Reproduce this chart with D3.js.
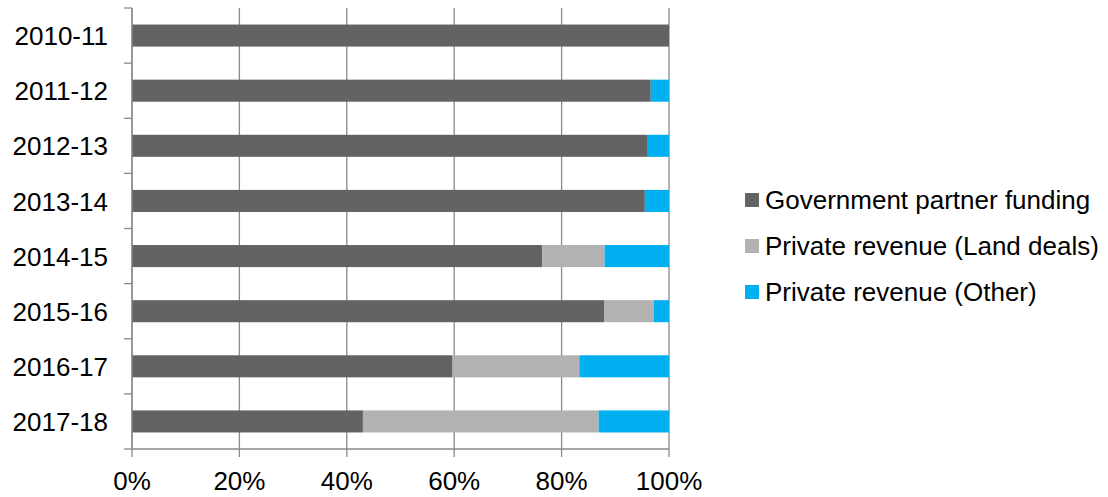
<!DOCTYPE html>
<html>
<head>
<meta charset="utf-8">
<script src="https://cdn.jsdelivr.net/npm/d3@7"></script>
<style>
  body { margin: 0; background: #fff; }
  text { font-family: "Liberation Sans", Arial, sans-serif; fill: #000; }
</style>
</head>
<body>
<script>
// Data (shares of total, %)
const years = ["2010-11", "2011-12", "2012-13", "2013-14", "2014-15", "2015-16", "2016-17", "2017-18"];
const seriesNames = ["Government partner funding", "Private revenue (Land deals)", "Private revenue (Other)"];
const government = [100, 96.6, 95.9, 95.5, 76.4, 87.9, 59.7, 43.0];
const landDeals = [0, 0, 0, 0, 11.6, 9.3, 23.6, 43.9];
const other = [0, 3.4, 4.1, 4.5, 12.0, 2.8, 16.7, 13.1];
const xTicks = [0, 20, 40, 60, 80, 100];
const colors = ["#636363", "#b2b2b2", "#00b0f0"];

const width = 1108, height = 497;
const margin = { top: 8, right: 439, bottom: 48, left: 132 };

const svg = d3.select("body").append("svg")
    .attr("width", width)
    .attr("height", height);

const x = d3.scaleLinear()
    .domain([0, 100])
    .range([margin.left, width - margin.right]);

const y = d3.scaleBand()
    .domain(years)
    .range([margin.top, height - margin.bottom])
    .paddingInner(0.6)
    .paddingOuter(0.3);

// Build stacked table
const table = years.map((yr, i) => ({
    year: yr,
    [seriesNames[0]]: government[i],
    [seriesNames[1]]: landDeals[i],
    [seriesNames[2]]: other[i]
}));
const stacked = d3.stack().keys(seriesNames)(table);

const axisColor = "#8a8a8a";
const fontSize = 26;

// gridlines (with small ticks below the axis)
svg.append("g")
    .selectAll("line")
    .data(xTicks)
    .join("line")
    .attr("x1", d => x(d)).attr("x2", d => x(d))
    .attr("y1", margin.top).attr("y2", height - margin.bottom + 8)
    .attr("stroke", axisColor)
    .attr("stroke-width", 1.3);

// bars
svg.append("g")
    .selectAll("g")
    .data(stacked)
    .join("g")
    .attr("fill", (d, i) => colors[i])
    .selectAll("rect")
    .data(d => d)
    .join("rect")
    .attr("x", d => x(d[0]))
    .attr("y", d => y(d.data.year))
    .attr("width", d => x(d[1]) - x(d[0]))
    .attr("height", y.bandwidth());

// y axis
const yAxis = svg.append("g")
    .attr("transform", `translate(${margin.left},0)`);
yAxis.append("line")
    .attr("x1", 0).attr("x2", 0)
    .attr("y1", margin.top).attr("y2", height - margin.bottom)
    .attr("stroke", axisColor).attr("stroke-width", 1.3);
const bandStep = (height - margin.bottom - margin.top) / years.length;
yAxis.selectAll(".tk")
    .data(d3.range(years.length + 1))
    .join("line")
    .attr("x1", -8).attr("x2", 0)
    .attr("y1", i => margin.top + i * bandStep)
    .attr("y2", i => margin.top + i * bandStep)
    .attr("stroke", axisColor).attr("stroke-width", 1.3);
yAxis.selectAll("text")
    .data(years)
    .join("text")
    .attr("x", -24)
    .attr("y", d => y(d) + y.bandwidth() / 2)
    .attr("dy", "0.37em")
    .attr("text-anchor", "end")
    .attr("font-size", fontSize)
    .text(d => d);

// x axis
const xAxis = svg.append("g");
xAxis.append("line")
    .attr("x1", x(0)).attr("x2", x(100))
    .attr("y1", height - margin.bottom).attr("y2", height - margin.bottom)
    .attr("stroke", axisColor).attr("stroke-width", 1.3);
xAxis.selectAll("text")
    .data(xTicks)
    .join("text")
    .attr("x", d => x(d))
    .attr("y", 490)
    .attr("text-anchor", "middle")
    .attr("font-size", fontSize)
    .text(d => d + "%");

// legend
const legend = svg.append("g")
    .attr("transform", "translate(745,200)");
const item = legend.selectAll("g")
    .data(seriesNames)
    .join("g")
    .attr("transform", (d, i) => `translate(0,${i * 46})`);
item.append("rect")
    .attr("x", 0).attr("y", -7)
    .attr("width", 14).attr("height", 14)
    .attr("fill", (d, i) => colors[i]);
item.append("text")
    .attr("x", 20)
    .attr("y", 0)
    .attr("dy", "0.36em")
    .attr("font-size", fontSize)
    .text(d => d);
</script>
</body>
</html>
